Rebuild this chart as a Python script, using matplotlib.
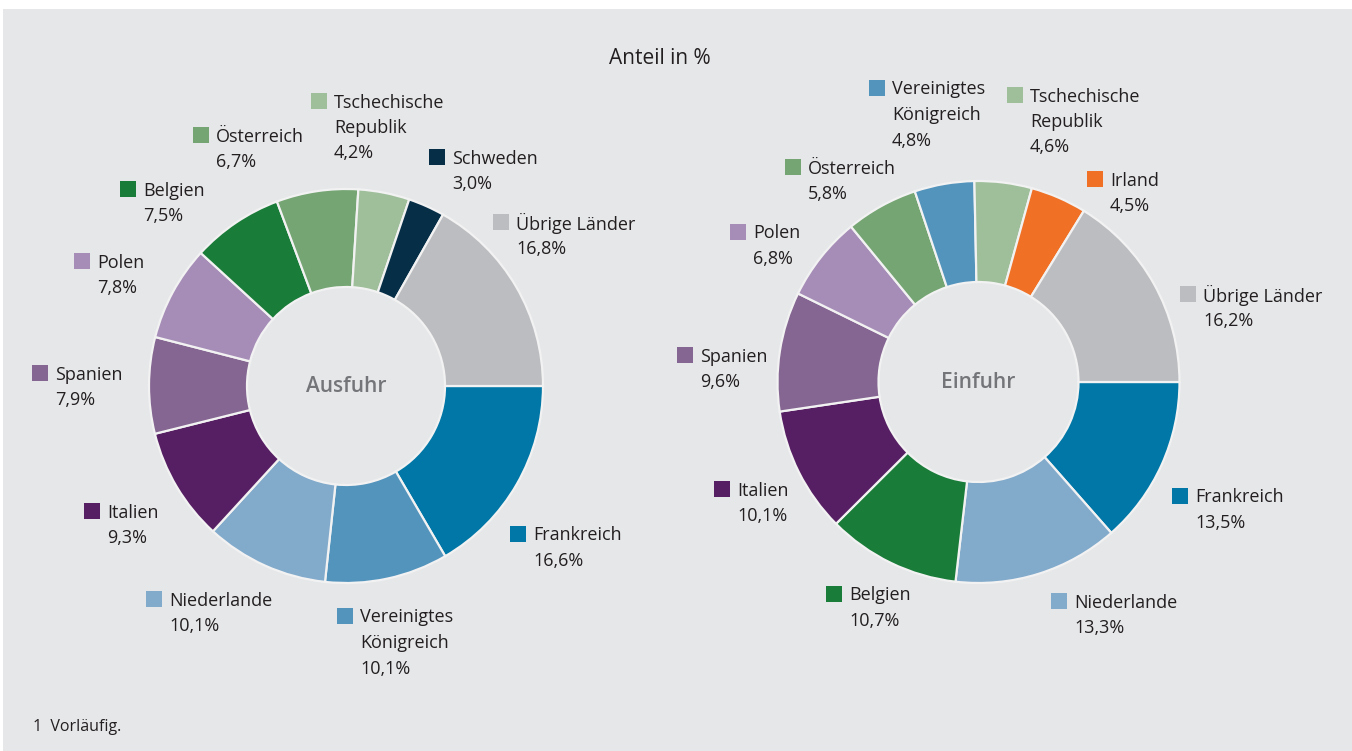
import matplotlib.pyplot as plt
from matplotlib.patches import Rectangle

plt.rcParams['font.family'] = ['Open Sans', 'DejaVu Sans']

W, H = 1352, 751

# Ausfuhr (left donut), clockwise from 3 o'clock
exp_names = ["Frankreich", "Vereinigtes\nKönigreich", "Niederlande", "Italien", "Spanien",
             "Polen", "Belgien", "Österreich", "Tschechische\nRepublik", "Schweden", "Übrige Länder"]
exp_values = [16.6, 10.1, 10.1, 9.3, 7.9, 7.8, 7.5, 6.7, 4.2, 3.0, 16.8]

# Einfuhr (right donut)
imp_names = ["Frankreich", "Niederlande", "Belgien", "Italien", "Spanien", "Polen",
             "Österreich", "Vereinigtes\nKönigreich", "Tschechische\nRepublik", "Irland", "Übrige Länder"]
imp_values = [13.5, 13.3, 10.7, 10.1, 9.6, 6.8, 5.8, 4.8, 4.6, 4.5, 16.2]

colors = {
    "Frankreich": "#0077a6",
    "Vereinigtes\nKönigreich": "#5394bd",
    "Niederlande": "#82aacb",
    "Italien": "#561f63",
    "Spanien": "#856591",
    "Polen": "#a68db7",
    "Belgien": "#197c38",
    "Österreich": "#74a572",
    "Tschechische\nRepublik": "#9fbf9a",
    "Schweden": "#062f47",
    "Übrige Länder": "#bcbdc0",
    "Irland": "#f07125",
}

# label anchor (square left, first line centre) in pixels, top-left origin
exp_label_pos = [(510, 534), (337, 616), (146, 599), (84, 511), (32, 373),
                 (74, 261), (120, 189), (193, 135), (311, 101), (429, 157), (493, 222)]
imp_label_pos = [(1172, 496), (1051, 601), (826, 594), (714, 489), (677, 355), (730, 232),
                 (785, 167), (869, 88), (1007, 95), (1087, 179), (1180, 294)]

BG = "#e6e7e9"
TXT = "#231f20"

fig = plt.figure(figsize=(W / 100, H / 100), dpi=100, facecolor="white")
ax = fig.add_axes([0, 0, 1, 1])
ax.add_patch(Rectangle((3, 0), W - 3, H - 9, facecolor=BG, edgecolor="none", zorder=0))


def donut(names, values, cx, cy, r_out, r_in, pos, center_txt):
    ax.pie(values, colors=[colors[n] for n in names], startangle=0, counterclock=False,
           center=(cx, H - cy), radius=r_out,
           wedgeprops=dict(width=r_out - r_in, edgecolor="#f2f2f3", linewidth=1.6))
    ax.text(cx, H - cy, center_txt, ha="center", va="center", fontsize=15,
            fontweight="semibold", color="#747578")
    for n, v, (x, y) in zip(names, values, pos):
        ax.add_patch(Rectangle((x, H - y - 8), 16, 16, facecolor=colors[n], edgecolor="none"))
        lines = n.split("\n") + [f"{v:.1f}".replace(".", ",") + "%"]
        for i, ln in enumerate(lines):
            ax.text(x + 23, H - y - 1.5 - i * 25.5, ln, ha="left", va="center",
                    fontsize=13, color=TXT)


donut(exp_names, exp_values, 346, 386, 197, 99, exp_label_pos, "Ausfuhr")
donut(imp_names, imp_values, 978.5, 382, 201, 100, imp_label_pos, "Einfuhr")

ax.text(660, H - 58, "Anteil in %", ha="center", va="center", fontsize=15, color=TXT)
ax.text(33, H - 727, "1  Vorläufig.", ha="left", va="center", fontsize=11.5, color=TXT)

ax.set_xlim(0, W)
ax.set_ylim(0, H)
ax.set_aspect("auto")
ax.set_position([0, 0, 1, 1])
ax.axis("off")

fig.savefig("out.png", dpi=100, facecolor="white")
